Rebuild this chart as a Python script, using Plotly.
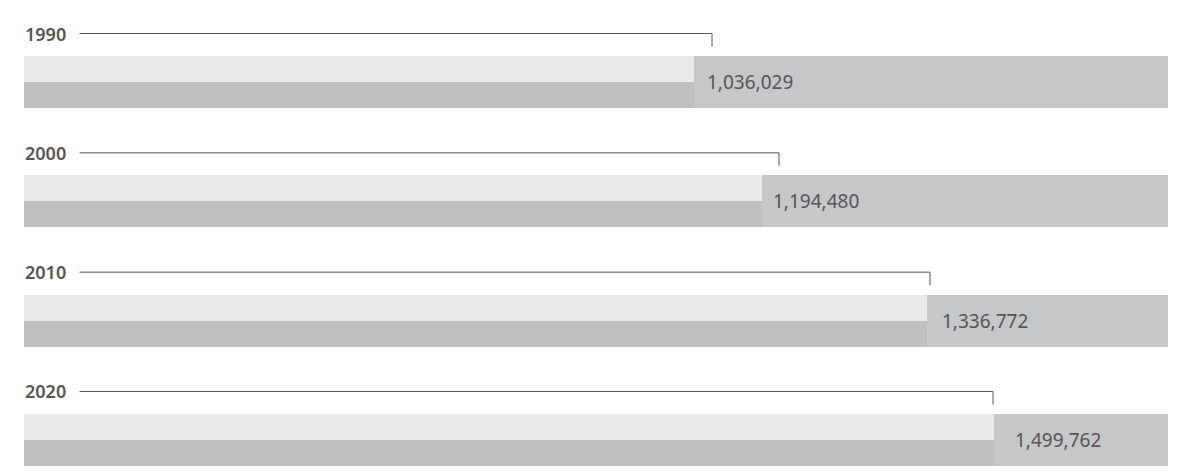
import plotly.graph_objects as go

# ---- data ----
years = ["1990", "2000", "2010", "2020"]
values = [1036029, 1194480, 1336772, 1499762]          # printed labels
bar_split = [1036029, 1141800, 1395600, 1499762]       # where the two-tone bar ends
bracket = [1063900, 1167500, 1401000, 1498400]         # where the bracket line drops
axis_max = 1769000

# ---- style / layout ----
W, H = 1184, 474
LIGHT = "#e8e9eb"
DARK = "#bfbfc0"
REST = "#c6c7c9"
TXT = "#555555"
FONT = "Noto Sans, Open Sans, sans-serif"
bar_tops = [56 + 119.33 * i for i in range(len(years))]
label_shift = [11, 9, 13, 19]
half = 26

fig = go.Figure()
for i, yr in enumerate(years):
    top = bar_tops[i]
    fig.add_trace(go.Bar(orientation="h", y=[top + half / 2], x=[bar_split[i]], base=[0],
                         width=[half], marker=dict(color=LIGHT, line=dict(width=0)),
                         hoverinfo="skip", showlegend=False))
    fig.add_trace(go.Bar(orientation="h", y=[top + 1.5 * half], x=[bar_split[i]], base=[0],
                         width=[half], marker=dict(color=DARK, line=dict(width=0)),
                         hoverinfo="skip", showlegend=False))
    fig.add_trace(go.Bar(orientation="h", y=[top + half], x=[axis_max - bar_split[i]], base=[bar_split[i]],
                         width=[2 * half], marker=dict(color=REST, line=dict(width=0)),
                         hoverinfo="skip", showlegend=False))
    line_y = top - 22.5
    fig.add_trace(go.Scatter(x=[0, bracket[i], bracket[i]], y=[line_y, line_y, top - 9.5],
                             mode="lines", line=dict(color=TXT, width=1),
                             hoverinfo="skip", showlegend=False))
    fig.add_annotation(x=0, y=line_y, xref="x", yref="y", text=f"{yr}&nbsp;",
                       showarrow=False, xanchor="left", yanchor="middle",
                       font=dict(family=FONT, size=18, color=TXT, weight=600),
                       bgcolor="white", borderpad=8, xshift=-8)
    fig.add_annotation(x=bar_split[i], y=top + half, xref="x", yref="y",
                       text=f"{values[i]:,}", showarrow=False,
                       xanchor="left", yanchor="middle", xshift=label_shift[i],
                       font=dict(family=FONT, size=19, color=TXT))

fig.update_layout(
    width=W, height=H,
    margin=dict(l=24, r=16, t=0, b=0, pad=0),
    paper_bgcolor="white", plot_bgcolor="white",
    barmode="overlay", bargap=0,
    xaxis=dict(range=[0, axis_max], visible=False, fixedrange=True),
    yaxis=dict(range=[H, 0], visible=False, fixedrange=True),
    font=dict(family=FONT, color=TXT),
)

fig.write_html("out.html", config={"displayModeBar": False},
               post_script="document.body.style.margin='0';")
